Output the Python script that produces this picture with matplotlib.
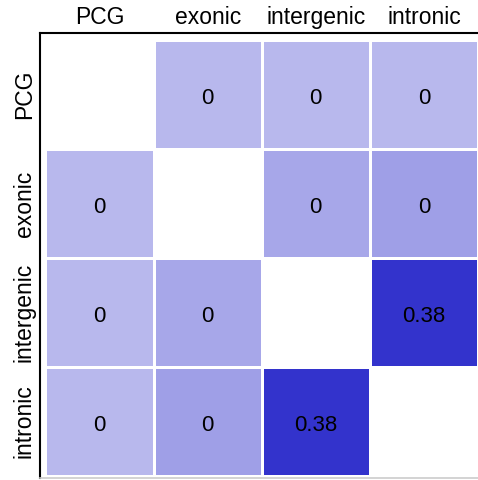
import numpy as np
import matplotlib
matplotlib.use("Agg")
import matplotlib.pyplot as plt
from matplotlib.colors import LinearSegmentedColormap

plt.rcParams['font.family'] = ['Liberation Sans', 'DejaVu Sans']

groups = ['PCG', 'exonic', 'intergenic', 'intronic']
# numbers printed in the cells
labels = [['', '0', '0', '0'],
          ['0', '', '0', '0'],
          ['0', '0', '', '0.38'],
          ['0', '0', '0.38', '']]
# fill shade of each cell (diagonal left empty)
shade = np.array([[np.nan, 0.35, 0.35, 0.35],
                  [0.35, np.nan, 0.43, 0.47],
                  [0.35, 0.43, np.nan, 1.0],
                  [0.35, 0.47, 1.0, np.nan]])

cmap = LinearSegmentedColormap.from_list('wb', ['#ffffff', '#3333cc'])

fig = plt.figure(figsize=(4.78, 4.80), dpi=100)
ax = fig.add_axes([40/478, 2/480, 438/478, 445/480])

data = np.ma.masked_invalid(shade)
ax.pcolormesh(np.arange(5), np.arange(5), data, cmap=cmap, vmin=0, vmax=1,
              edgecolors='white', linewidth=0.9)
ax.set_xlim(-0.05, 4)
ax.set_ylim(4.02, -0.065)

for i in range(4):
    for j in range(4):
        if labels[i][j]:
            ax.text(j + 0.5, i + 0.54, labels[i][j], ha='center', va='center',
                    fontsize=16, color='black')

ax.xaxis.tick_top()
ax.set_xticks(np.arange(4) + 0.5)
ax.set_xticklabels(groups, fontsize=16.5)
ax.set_yticks(np.arange(4) + 0.5)
ax.set_yticklabels(groups, fontsize=16.5, rotation=90, va='center')
ax.tick_params(length=0, pad=3)

ax.spines['right'].set_visible(False)
ax.spines['left'].set_linewidth(1.5)
ax.spines['top'].set_linewidth(1.5)
ax.spines['bottom'].set_color('#cccccc')
ax.spines['bottom'].set_linewidth(1.2)

fig.savefig('out.png', dpi=100)
